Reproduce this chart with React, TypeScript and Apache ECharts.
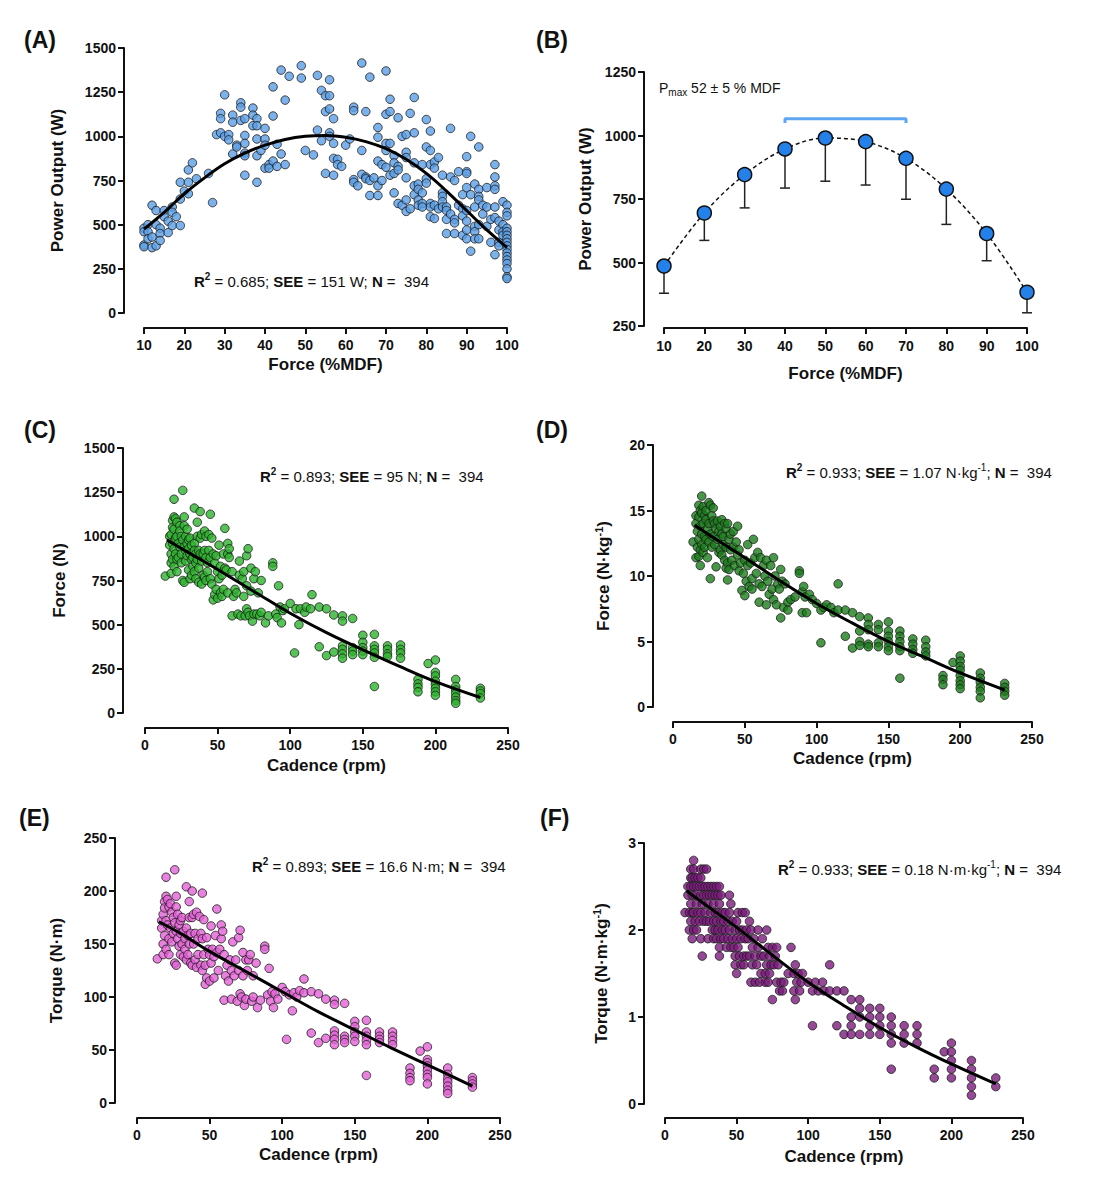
import { useEffect, useRef } from "react";
import * as echarts from "echarts";

const FONT = '"Liberation Sans", Arial, Helvetica, sans-serif';
const INK = "#111111";

// (A) power vs force
const scatterA: [number, number][] = [
  [10, 480], [10, 460], [10, 385], [10, 375], [11, 500], [11, 460], [11, 420], [12, 610], [12, 430], [12, 370],
  [13, 580], [13, 500], [13, 380], [14, 480], [14, 450], [14, 410], [15, 580], [15, 545], [16, 520], [16, 455],
  [17, 600], [17, 570], [17, 495], [18, 545], [19, 740], [19, 645], [19, 495], [20, 690], [21, 810], [21, 740],
  [21, 675], [22, 850], [23, 760], [26, 790], [27, 625], [28, 1010], [29, 1130], [29, 1100], [29, 1020], [30, 1235],
  [30, 1000], [31, 1010], [31, 980], [32, 1120], [32, 1080], [32, 900], [33, 950], [33, 940], [34, 1190], [34, 1165],
  [34, 1090], [35, 1100], [35, 1005], [35, 960], [35, 905], [35, 890], [35, 780], [37, 1160], [37, 1120], [37, 1060],
  [38, 1100], [38, 1060], [38, 985], [38, 890], [38, 740], [39, 920], [40, 1045], [40, 985], [40, 950], [40, 820],
  [41, 840], [41, 820], [42, 1280], [42, 1115], [42, 860], [43, 955], [43, 830], [44, 1375], [44, 900], [45, 1205],
  [45, 840], [46, 1340], [49, 1400], [49, 1330], [50, 920], [52, 895], [53, 1345], [53, 1035], [54, 1260], [54, 975],
  [55, 1230], [55, 1140], [55, 790], [56, 1320], [56, 1230], [56, 1155], [56, 1020], [56, 1000], [57, 1100], [57, 960],
  [57, 875], [57, 780], [58, 870], [58, 840], [59, 830], [60, 950], [61, 985], [62, 1165], [62, 1145], [62, 755],
  [62, 740], [63, 720], [64, 920], [64, 785], [64, 1415], [65, 1140], [65, 770], [65, 760], [66, 1335], [66, 750],
  [66, 665], [67, 765], [68, 1050], [68, 995], [68, 860], [68, 720], [68, 665], [69, 840], [69, 750], [70, 1370],
  [70, 1125], [70, 960], [70, 920], [70, 825], [71, 1210], [71, 1140], [71, 960], [71, 780], [72, 890], [72, 850],
  [72, 790], [72, 680], [73, 1105], [73, 830], [73, 810], [73, 620], [74, 1000], [74, 610], [75, 1010], [75, 910],
  [75, 880], [75, 765], [75, 640], [75, 575], [76, 1130], [76, 590], [77, 1220], [77, 1020], [77, 850], [77, 720],
  [77, 670], [78, 730], [78, 700], [78, 640], [78, 610], [79, 840], [79, 680], [79, 620], [79, 600], [80, 1095],
  [80, 940], [80, 760], [80, 735], [81, 1030], [81, 920], [81, 840], [81, 620], [81, 600], [81, 545], [82, 855],
  [82, 820], [82, 610], [82, 535], [83, 880], [83, 590], [84, 780], [84, 680], [84, 660], [84, 630], [84, 600],
  [85, 600], [85, 580], [85, 530], [85, 450], [86, 1045], [86, 770], [86, 560], [87, 750], [87, 530], [87, 510],
  [87, 450], [88, 800], [88, 610], [89, 670], [89, 590], [89, 550], [89, 440], [90, 885], [90, 800], [90, 790],
  [90, 710], [90, 580], [90, 520], [90, 470], [90, 420], [91, 1000], [91, 670], [91, 350], [92, 730], [92, 600],
  [92, 490], [92, 460], [92, 420], [93, 940], [93, 700], [93, 660], [93, 640], [93, 500], [93, 420], [94, 610],
  [94, 560], [95, 710], [95, 600], [95, 490], [96, 530], [96, 400], [97, 840], [97, 770], [97, 720], [97, 700],
  [97, 600], [97, 540], [97, 330], [98, 520], [98, 470], [98, 400], [98, 380], [99, 630], [99, 500], [99, 460],
  [99, 440], [100, 610], [100, 570], [100, 550], [100, 480], [100, 460], [100, 440], [100, 420], [100, 400],
  [100, 380], [100, 360], [100, 340], [100, 320], [100, 300], [100, 280], [100, 250], [100, 205], [100, 195],
];
const fitA: [number, number][] = [
  [10, 475], [15, 570], [20, 675], [25, 765], [30, 845], [35, 905], [40, 950], [45, 982], [50, 1000], [55, 1005],
  [60, 995], [65, 970], [70, 930], [75, 870], [80, 790], [85, 690], [90, 580], [95, 470], [100, 370],
];

// (B) binned means with lower SD bars
const forceBins = [10, 20, 30, 40, 50, 60, 70, 80, 90, 100];
const powerMean = [486, 695, 846, 947, 990, 976, 910, 789, 614, 383];
const powerLower = [379, 587, 715, 793, 820, 805, 749, 650, 507, 302];
const bracketB: [number, number][] = [[40, 1049], [40, 1066], [70, 1066], [70, 1049]];

// (C) force (N) vs cadence
const scatterC: [number, number][] = [
  [14, 775], [17, 950], [17, 1000], [18, 1010], [18, 900], [18, 850], [18, 790], [19, 1090], [19, 1050], [19, 960],
  [19, 870], [20, 1210], [20, 1110], [20, 1040], [20, 930], [20, 830], [21, 1100], [21, 990], [21, 900], [22, 1080],
  [22, 1000], [22, 870], [22, 800], [23, 960], [23, 880], [24, 1060], [24, 1030], [24, 940], [25, 1000], [25, 900],
  [25, 850], [26, 1260], [26, 980], [26, 750], [27, 1110], [27, 1060], [27, 940], [27, 740], [28, 1000], [28, 920],
  [28, 860], [29, 1040], [29, 960], [29, 890], [30, 980], [30, 930], [30, 810], [31, 990], [31, 900], [31, 760],
  [32, 950], [32, 870], [32, 780], [33, 880], [33, 830], [34, 1160], [34, 960], [34, 920], [34, 800], [35, 900],
  [35, 850], [35, 760], [36, 1080], [36, 1000], [36, 870], [37, 920], [37, 820], [37, 740], [38, 1140], [38, 990],
  [38, 900], [39, 1010], [39, 860], [39, 730], [40, 900], [40, 780], [41, 1030], [41, 920], [41, 770], [42, 1000],
  [42, 880], [42, 750], [43, 850], [43, 800], [44, 1010], [44, 920], [45, 1125], [45, 880], [45, 760], [46, 990],
  [46, 730], [47, 900], [47, 640], [48, 850], [48, 670], [49, 890], [49, 700], [50, 800], [50, 650], [51, 950],
  [51, 760], [52, 830], [52, 680], [53, 780], [53, 660], [54, 900], [54, 700], [55, 1045], [55, 820], [56, 810],
  [57, 960], [57, 900], [57, 680], [58, 930], [58, 880], [60, 550], [60, 800], [61, 660], [62, 700], [63, 680],
  [64, 560], [65, 860], [65, 780], [66, 550], [67, 760], [68, 800], [68, 660], [69, 550], [70, 890], [70, 720],
  [70, 590], [71, 930], [71, 570], [72, 550], [73, 820], [73, 690], [74, 520], [75, 760], [75, 560], [76, 800],
  [77, 560], [78, 680], [79, 550], [80, 750], [80, 570], [83, 510], [85, 550], [88, 850], [88, 830], [90, 560],
  [91, 540], [92, 720], [93, 600], [94, 510], [95, 580], [96, 590], [100, 620], [103, 340], [104, 590], [106, 500],
  [107, 590], [110, 570], [111, 600], [114, 590], [115, 670], [120, 375], [120, 600], [125, 590], [125, 325], [130, 555],
  [130, 345], [136, 550], [136, 520], [136, 380], [136, 360], [136, 335], [136, 310], [143, 535], [143, 370], [143, 350],
  [143, 330], [150, 440], [150, 400], [150, 370], [150, 350], [150, 330], [158, 445], [158, 380], [158, 360], [158, 340],
  [158, 315], [158, 150], [167, 380], [167, 360], [167, 335], [167, 320], [176, 385], [176, 360], [176, 340], [176, 310],
  [188, 190], [188, 165], [188, 145], [188, 120], [195, 280], [200, 300], [200, 230], [200, 210], [200, 180], [200, 160],
  [200, 140], [200, 120], [200, 100], [214, 190], [214, 150], [214, 130], [214, 110], [214, 90], [214, 70], [214, 55],
  [231, 140], [231, 125], [231, 110], [231, 85],
];
const fitC: [number, number][] = [
  [15, 980], [30, 908], [50, 812], [75, 688], [100, 565], [125, 455], [150, 358], [175, 265], [200, 178], [231, 88],
];

// (D) relative force (N·kg-1) vs cadence
const scatterD: [number, number][] = [
  [14, 12.6], [16, 14.6], [16, 14.0], [16, 11.4], [17, 13.4], [17, 12.2], [18, 15.4], [18, 14.5], [18, 12.8], [18, 11.5],
  [19, 15.0], [19, 13.8], [19, 12.0], [19, 10.8], [20, 16.1], [20, 14.8], [20, 13.2], [20, 12.4], [21, 15.3], [21, 14.0],
  [21, 11.8], [22, 14.6], [22, 13.0], [22, 12.2], [23, 15.0], [23, 14.3], [23, 12.8], [24, 13.6], [24, 11.4], [25, 15.6],
  [25, 14.0], [25, 12.6], [26, 15.4], [26, 13.2], [26, 9.8], [27, 14.6], [27, 12.2], [28, 15.2], [28, 14.2], [28, 13.0],
  [29, 14.0], [29, 12.4], [30, 13.6], [30, 10.7], [31, 14.2], [31, 12.8], [32, 13.4], [32, 11.8], [33, 13.8], [33, 12.0],
  [34, 14.3], [34, 13.2], [34, 11.6], [35, 13.0], [35, 12.4], [36, 14.0], [36, 11.2], [37, 13.6], [37, 12.2], [37, 10.6],
  [38, 14.0], [38, 11.0], [38, 9.7], [39, 12.8], [39, 10.5], [40, 13.2], [40, 12.0], [41, 11.2], [42, 13.4], [42, 12.2],
  [43, 10.8], [44, 12.6], [45, 13.8], [45, 11.6], [46, 12.0], [46, 10.4], [47, 11.0], [48, 8.9], [49, 10.2], [50, 11.2],
  [50, 8.5], [51, 9.6], [52, 12.4], [52, 10.8], [53, 9.2], [54, 11.0], [55, 9.8], [55, 9.0], [56, 12.8], [57, 11.4],
  [58, 10.2], [59, 11.8], [60, 9.4], [60, 8.0], [61, 11.4], [62, 9.2], [63, 10.8], [64, 10.0], [65, 11.2], [65, 7.8],
  [66, 9.6], [67, 8.6], [68, 10.8], [69, 9.0], [70, 11.4], [70, 8.2], [71, 10.0], [72, 7.8], [73, 9.4], [74, 9.0],
  [75, 10.5], [75, 6.8], [76, 9.6], [77, 7.6], [78, 9.4], [80, 8.0], [80, 7.4], [82, 8.2], [85, 8.4], [88, 10.4],
  [88, 10.2], [90, 8.8], [90, 7.2], [91, 9.2], [92, 8.4], [93, 7.2], [95, 8.6], [97, 8.2], [100, 7.9], [103, 4.9],
  [103, 7.4], [105, 7.6], [107, 7.8], [110, 7.6], [112, 7.2], [115, 9.4], [115, 7.4], [120, 7.4], [120, 5.4], [125, 7.2],
  [125, 4.5], [130, 6.9], [130, 5.8], [130, 5.0], [130, 4.7], [136, 6.8], [136, 6.3], [136, 5.9], [136, 4.8], [136, 4.6],
  [143, 6.3], [143, 5.9], [143, 4.9], [143, 4.6], [150, 6.5], [150, 5.8], [150, 5.4], [150, 5.0], [150, 4.6], [150, 4.3],
  [158, 5.8], [158, 5.4], [158, 5.0], [158, 4.6], [158, 4.3], [158, 2.2], [167, 5.2], [167, 4.8], [167, 4.4], [167, 4.1],
  [176, 5.1], [176, 4.6], [176, 4.2], [176, 3.9], [188, 2.4], [188, 2.1], [188, 1.7], [195, 3.4], [200, 3.9], [200, 3.5],
  [200, 3.1], [200, 2.8], [200, 2.4], [200, 2.0], [200, 1.7], [200, 1.4], [214, 2.6], [214, 2.2], [214, 1.9], [214, 1.5],
  [214, 1.2], [214, 0.7], [231, 1.8], [231, 1.5], [231, 1.2], [231, 0.9],
];
const fitD: [number, number][] = [
  [15, 13.9], [30, 12.8], [50, 11.4], [75, 9.6], [100, 7.9], [125, 6.4], [150, 5.0], [175, 3.8], [200, 2.6], [231, 1.3],
];

// (E) torque (N·m) vs cadence
const scatterE: [number, number][] = [
  [14, 136], [17, 165], [17, 172], [18, 178], [18, 150], [18, 140], [19, 190], [19, 184], [19, 158], [20, 213],
  [20, 195], [20, 172], [20, 145], [21, 192], [21, 168], [22, 185], [22, 155], [22, 140], [23, 188], [23, 165],
  [24, 180], [24, 152], [25, 175], [25, 160], [26, 220], [26, 170], [26, 132], [27, 195], [27, 185], [27, 162],
  [27, 130], [28, 178], [28, 155], [29, 168], [29, 148], [30, 172], [30, 160], [30, 140], [31, 175], [31, 150],
  [32, 162], [32, 138], [33, 155], [33, 145], [34, 204], [34, 165], [34, 135], [35, 158], [35, 140], [36, 190],
  [36, 175], [36, 150], [37, 160], [37, 132], [38, 200], [38, 175], [38, 130], [39, 178], [39, 150], [40, 160],
  [40, 135], [41, 180], [41, 128], [42, 155], [42, 140], [43, 176], [44, 160], [44, 130], [45, 198], [45, 155],
  [45, 125], [46, 173], [46, 140], [47, 130], [47, 112], [48, 156], [48, 118], [49, 145], [50, 140], [50, 115],
  [51, 167], [51, 132], [52, 145], [53, 138], [53, 118], [54, 158], [55, 183], [55, 142], [56, 125], [57, 145],
  [58, 168], [58, 155], [59, 162], [60, 97], [60, 140], [61, 120], [62, 130], [63, 115], [64, 135], [65, 125],
  [65, 98], [66, 152], [67, 120], [68, 135], [69, 96], [70, 156], [70, 125], [71, 163], [71, 103], [72, 100],
  [73, 142], [73, 120], [74, 92], [75, 135], [75, 98], [76, 125], [77, 135], [78, 140], [79, 96], [80, 120],
  [80, 100], [82, 132], [83, 90], [85, 97], [88, 148], [88, 145], [90, 102], [91, 127], [92, 96], [93, 105],
  [94, 90], [95, 103], [97, 98], [100, 109], [102, 105], [103, 60], [105, 102], [107, 87], [108, 104], [110, 100],
  [112, 106], [115, 117], [115, 104], [120, 105], [120, 66], [125, 103], [125, 57], [130, 98], [130, 61], [136, 97],
  [136, 93], [136, 68], [136, 64], [136, 60], [136, 55], [143, 94], [143, 63], [143, 60], [143, 57], [150, 77],
  [150, 72], [150, 67], [150, 63], [150, 58], [158, 78], [158, 67], [158, 63], [158, 59], [158, 55], [158, 26],
  [167, 67], [167, 63], [167, 60], [167, 57], [176, 67], [176, 63], [176, 59], [176, 55], [188, 33], [188, 28],
  [188, 24], [188, 21], [195, 49], [200, 53], [200, 41], [200, 38], [200, 35], [200, 31], [200, 27], [200, 24],
  [200, 18], [214, 33], [214, 27], [214, 23], [214, 20], [214, 16], [214, 12], [214, 9], [231, 24], [231, 21],
  [231, 18], [231, 15],
];
const fitE: [number, number][] = [
  [15, 171], [30, 160], [50, 143], [75, 124], [100, 105], [125, 86], [150, 69], [175, 52], [200, 36], [231, 16],
];

// (F) relative torque (N·m·kg-1) vs cadence
const scatterF: [number, number][] = [
  [14, 2.2], [16, 2.5], [16, 2.4], [17, 2.2], [17, 2.0], [18, 2.7], [18, 2.6], [18, 2.5], [18, 2.3], [18, 2.1],
  [19, 2.6], [19, 2.4], [19, 2.2], [19, 1.9], [20, 2.8], [20, 2.7], [20, 2.5], [20, 2.2], [20, 2.0], [21, 2.6],
  [21, 2.4], [21, 2.1], [22, 2.5], [22, 2.3], [22, 2.0], [23, 2.6], [23, 2.2], [24, 2.5], [24, 2.1], [25, 2.7],
  [25, 2.6], [25, 2.4], [25, 2.2], [25, 1.9], [26, 2.5], [26, 2.3], [26, 1.7], [27, 2.7], [27, 2.4], [27, 2.1],
  [28, 2.5], [28, 2.2], [29, 2.7], [29, 2.4], [29, 2.1], [30, 2.5], [30, 2.3], [30, 1.9], [31, 2.4], [31, 2.1],
  [32, 2.5], [32, 2.2], [33, 2.4], [33, 2.0], [34, 2.5], [34, 2.3], [34, 2.1], [34, 1.9], [35, 2.4], [35, 2.2],
  [35, 2.0], [36, 2.5], [36, 2.1], [36, 1.9], [37, 2.4], [37, 2.2], [37, 2.0], [38, 2.5], [38, 2.3], [38, 1.8],
  [38, 1.7], [39, 2.4], [39, 2.1], [39, 1.9], [40, 2.2], [40, 2.0], [41, 2.1], [41, 1.9], [42, 2.2], [42, 2.0],
  [43, 1.8], [44, 2.1], [44, 1.9], [45, 2.4], [45, 2.2], [45, 2.0], [46, 2.3], [46, 1.8], [47, 2.1], [47, 1.9],
  [48, 1.8], [49, 2.0], [49, 1.7], [49, 1.6], [50, 2.1], [50, 1.9], [50, 1.5], [51, 2.2], [51, 1.8], [52, 2.0],
  [52, 1.7], [53, 1.9], [53, 1.6], [54, 2.2], [54, 2.0], [55, 1.7], [55, 1.6], [56, 2.2], [56, 1.9], [57, 2.0],
  [57, 1.7], [58, 1.9], [59, 2.1], [59, 1.7], [60, 2.0], [60, 1.4], [61, 1.8], [61, 1.6], [62, 1.9], [63, 1.7],
  [63, 1.4], [64, 1.6], [65, 2.0], [65, 1.8], [66, 1.4], [67, 1.7], [67, 1.5], [68, 1.9], [69, 1.7], [70, 1.5],
  [70, 1.4], [71, 2.0], [71, 1.6], [72, 1.8], [72, 1.4], [73, 1.7], [73, 1.5], [74, 1.6], [75, 1.8], [75, 1.2],
  [76, 1.6], [77, 1.7], [78, 1.8], [78, 1.4], [79, 1.6], [80, 1.3], [81, 1.4], [82, 1.3], [83, 1.4], [86, 1.5],
  [88, 1.8], [90, 1.5], [90, 1.3], [91, 1.6], [91, 1.2], [92, 1.4], [93, 1.5], [94, 1.3], [95, 1.4], [96, 1.5],
  [100, 1.4], [103, 1.3], [103, 0.9], [105, 1.4], [107, 1.3], [110, 1.4], [111, 1.3], [115, 1.6], [115, 1.3], [120, 1.3],
  [120, 0.9], [125, 1.3], [125, 0.8], [130, 1.2], [130, 1.0], [130, 0.9], [130, 0.8], [136, 1.2], [136, 1.1], [136, 1.0],
  [136, 0.8], [143, 1.1], [143, 1.0], [143, 0.9], [143, 0.8], [150, 1.1], [150, 1.0], [150, 0.9], [150, 0.8], [158, 1.0],
  [158, 0.9], [158, 0.8], [158, 0.7], [158, 0.4], [167, 0.9], [167, 0.8], [167, 0.7], [176, 0.9], [176, 0.8], [176, 0.7],
  [188, 0.4], [188, 0.3], [195, 0.6], [200, 0.7], [200, 0.6], [200, 0.5], [200, 0.4], [200, 0.3], [214, 0.5], [214, 0.4],
  [214, 0.3], [214, 0.2], [214, 0.1], [231, 0.3], [231, 0.2],
];
const fitF: [number, number][] = [
  [15, 2.45], [30, 2.27], [50, 2.03], [75, 1.71], [100, 1.4], [125, 1.13], [150, 0.88], [175, 0.66], [200, 0.46], [231, 0.23],
];

const titleStyle = {
  color: INK,
  fontSize: 17,
  fontWeight: "bold" as const,
  fontFamily: FONT,
  rich: {
    t: { fontSize: 17, fontWeight: "bold" as const, fontFamily: FONT, color: INK, lineHeight: 20 },
    s: { fontSize: 11, fontWeight: "bold" as const, fontFamily: FONT, color: INK, lineHeight: 11, verticalAlign: "top" as const },
  },
};

function axisBase(gridIndex: number, min: number, max: number, interval: number, name: string, nameGap: number, offset: number, labelMargin: number) {
  return {
    gridIndex,
    type: "value" as const,
    min,
    max,
    interval,
    name,
    nameLocation: "middle" as const,
    nameGap,
    nameTextStyle: titleStyle,
    offset,
    axisLine: { show: true, onZero: false, lineStyle: { color: INK, width: 2 } },
    axisTick: { show: true, inside: false, length: 6, lineStyle: { color: INK, width: 2 } },
    axisLabel: {
      color: INK,
      fontSize: 14,
      fontWeight: "bold" as const,
      fontFamily: FONT,
      margin: labelMargin,
      formatter: (v: number) => String(v),
    },
    splitLine: { show: false },
  };
}

function scatterSeries(i: number, data: [number, number][], color: string, size = 8) {
  return {
    type: "scatter" as const,
    xAxisIndex: i,
    yAxisIndex: i,
    data,
    symbol: "circle",
    symbolSize: size,
    itemStyle: { color, borderColor: "#1a1a1a", borderWidth: 1 },
    z: 2,
  };
}

function fitSeries(i: number, data: [number, number][]) {
  return {
    type: "line" as const,
    xAxisIndex: i,
    yAxisIndex: i,
    data,
    smooth: 0.4,
    showSymbol: false,
    symbol: "none",
    lineStyle: { color: "#000", width: 3 },
    z: 4,
  };
}

const statRich = {
  b: { fontSize: 15, fontWeight: "bold" as const, fontFamily: FONT, fill: INK, lineHeight: 20 },
  n: { fontSize: 15, fontWeight: "normal" as const, fontFamily: FONT, fill: INK, lineHeight: 20 },
  sup: { fontSize: 10, fontWeight: "bold" as const, fontFamily: FONT, fill: INK, lineHeight: 10, verticalAlign: "top" as const },
  nsup: { fontSize: 10, fontWeight: "normal" as const, fontFamily: FONT, fill: INK, lineHeight: 10, verticalAlign: "top" as const },
  sub: { fontSize: 10, fontWeight: "normal" as const, fontFamily: FONT, fill: INK, lineHeight: 10, verticalAlign: "bottom" as const },
  p: { fontSize: 14, fontWeight: "normal" as const, fontFamily: FONT, fill: INK, lineHeight: 18 },
};

function statText(x: number, y: number, text: string) {
  return { type: "text", x, y, style: { text, rich: statRich, verticalAlign: "middle", align: "left" } };
}

function panelLetter(x: number, y: number, text: string) {
  return {
    type: "text",
    x,
    y,
    style: { text, fontSize: 23, fontWeight: "bold", fontFamily: FONT, fill: INK, verticalAlign: "middle", align: "left" },
  };
}

export default function App() {
  const ref = useRef<HTMLDivElement | null>(null);

  useEffect(() => {
    document.body.style.margin = "0";
    if (!ref.current) return;
    const chart = echarts.init(ref.current, undefined, { renderer: "svg" });

    chart.setOption({
      animation: false,
      backgroundColor: "#ffffff",
      grid: [
        { left: 144, top: 48, width: 363, height: 265 },
        { left: 664, top: 72, width: 363, height: 254 },
        { left: 145, top: 448, width: 363, height: 265 },
        { left: 673, top: 445, width: 359, height: 262 },
        { left: 137, top: 838, width: 363, height: 265 },
        { left: 665, top: 843, width: 358, height: 261 },
      ],
      xAxis: [
        axisBase(0, 10, 100, 10, "Force (%MDF)", 28, 15, 10),
        axisBase(1, 10, 100, 10, "Force (%MDF)", 37, 2, 11),
        axisBase(2, 0, 250, 50, "Cadence (rpm)", 29, 15, 10),
        axisBase(3, 0, 250, 50, "Cadence (rpm)", 28, 15, 10),
        axisBase(4, 0, 250, 50, "Cadence (rpm)", 28, 15, 10),
        axisBase(5, 0, 250, 50, "Cadence (rpm)", 30, 14, 10),
      ],
      yAxis: [
        axisBase(0, 0, 1500, 250, "Power Output (W)", 58, 20, 8),
        axisBase(1, 250, 1250, 250, "Power Output (W)", 50, 20, 8),
        axisBase(2, 0, 1500, 250, "Force (N)", 55, 22, 8),
        axisBase(3, 0, 20, 5, "{t|Force (N·kg}{s|-1}{t|)}", 40, 20, 8),
        axisBase(4, 0, 250, 50, "{t|Torque (N·m)}", 49, 22, 8),
        axisBase(5, 0, 3, 1, "{t|Torque (N·m·kg}{s|-1}{t|)}", 33, 21, 8),
      ],
      graphic: [
        panelLetter(24, 40, "(A)"),
        panelLetter(536, 40, "(B)"),
        panelLetter(24, 430, "(C)"),
        panelLetter(536, 430, "(D)"),
        panelLetter(19, 818, "(E)"),
        panelLetter(540, 818, "(F)"),
        statText(194, 281, "{b|R}{sup|2}{n| = 0.685; }{b|SEE}{n| = 151 W; }{b|N}{n| =  394}"),
        statText(659, 88, "{p|P}{sub|max}{p| 52 ± 5 % MDF}"),
        statText(260, 476, "{b|R}{sup|2}{n| = 0.893; }{b|SEE}{n| = 95 N; }{b|N}{n| =  394}"),
        statText(786, 472, "{b|R}{sup|2}{n| = 0.933; }{b|SEE}{n| = 1.07 N·kg}{nsup|-1}{n|; }{b|N}{n| =  394}"),
        statText(252, 866, "{b|R}{sup|2}{n| = 0.893; }{b|SEE}{n| = 16.6 N·m; }{b|N}{n| =  394}"),
        statText(778, 869, "{b|R}{sup|2}{n| = 0.933; }{b|SEE}{n| = 0.18 N·m·kg}{nsup|-1}{n|; }{b|N}{n| =  394}"),
      ],
      series: [
        scatterSeries(0, scatterA, "#5b9fe6", 8.5),
        fitSeries(0, fitA),

        {
          type: "custom",
          xAxisIndex: 1,
          yAxisIndex: 1,
          data: forceBins.map((f, i) => [f, powerMean[i], powerLower[i]]),
          encode: { x: 0, y: [1, 2] },
          renderItem: (_params: any, api: any) => {
            const top = api.coord([api.value(0), api.value(1)]);
            const bot = api.coord([api.value(0), api.value(2)]);
            return {
              type: "group",
              children: [
                { type: "line", shape: { x1: top[0], y1: top[1], x2: bot[0], y2: bot[1] }, style: { stroke: "#222", lineWidth: 1.5 } },
                { type: "line", shape: { x1: bot[0] - 5, y1: bot[1], x2: bot[0] + 5, y2: bot[1] }, style: { stroke: "#222", lineWidth: 1.5 } },
              ],
            };
          },
          z: 1,
        },
        {
          type: "line",
          xAxisIndex: 1,
          yAxisIndex: 1,
          data: forceBins.map((f, i) => [f, powerMean[i]]),
          smooth: 0.35,
          symbol: "circle",
          symbolSize: 14,
          showSymbol: true,
          lineStyle: { color: "#111", width: 1.5, type: [4, 3] },
          itemStyle: { color: "#2481ea", borderColor: "#111", borderWidth: 1.5 },
          z: 3,
        },
        {
          type: "line",
          xAxisIndex: 1,
          yAxisIndex: 1,
          data: bracketB,
          symbol: "none",
          lineStyle: { color: "#5ea6f2", width: 3 },
          z: 3,
        },

        scatterSeries(2, scatterC, "#2db32d", 8.5),
        fitSeries(2, fitC),
        scatterSeries(3, scatterD, "#1c7d1c", 8.5),
        fitSeries(3, fitD),
        scatterSeries(4, scatterE, "#e462d6", 8.5),
        fitSeries(4, fitE),
        scatterSeries(5, scatterF, "#7a1c7c", 8.5),
        fitSeries(5, fitF),
      ],
    });

    return () => chart.dispose();
  }, []);

  return <div ref={ref} style={{ width: 1101, height: 1200 }} />;
}
